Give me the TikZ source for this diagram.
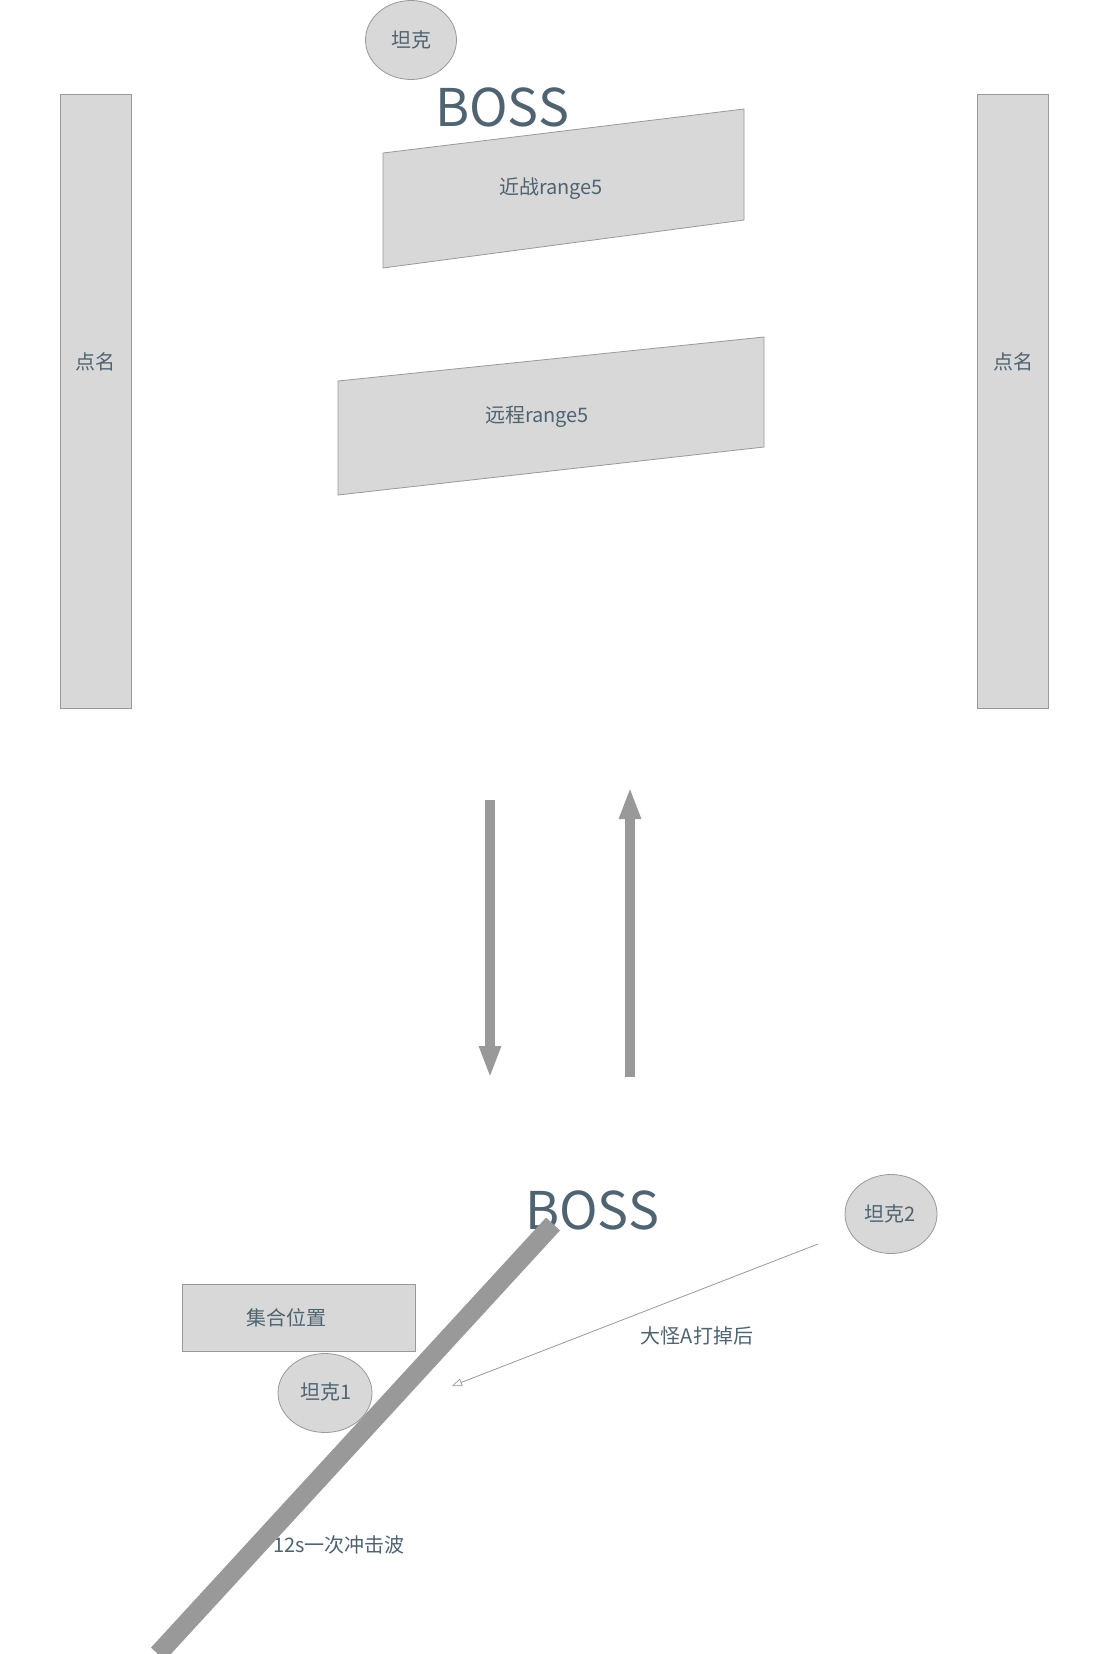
\documentclass[tikz,border=0pt]{standalone}
\usepackage{fontspec}
\setmainfont{Noto Sans CJK SC}
\usetikzlibrary{arrows.meta,shapes.geometric}
\definecolor{fillg}{HTML}{D8D8D8}
\definecolor{lineg}{HTML}{999999}
\definecolor{txt}{HTML}{4F6371}
\tikzset{
  shapebox/.style={fill=fillg,draw=lineg,line width=0.8pt},
  tankell/.style={ellipse,fill=fillg,draw=lineg,line width=0.8pt,inner sep=0pt},
  lbl/.style={text=txt,font=\fontsize{20}{23}\selectfont,inner sep=0pt},
  bosslbl/.style={text=txt,font=\fontsize{52}{56}\selectfont,inner sep=0pt},
  bigarrow/.style={draw=lineg,line width=10pt,-{Triangle[width=20pt,length=32pt]}},
  thinarrow/.style={draw=lineg,line width=0.8pt,-{Triangle[open,width=8pt,length=10pt,line width=0.7pt]}},
  bar/.style={draw=lineg,line width=19pt,line cap=butt}
}
\begin{document}
\begin{tikzpicture}[x=1pt,y=-1pt]
\useasboundingbox[fill=white] (0,0) rectangle (1109,1654);
% top tank
\node[tankell,minimum width=91pt,minimum height=79pt] (tanktop) at (411,40) {};
\node[lbl] (tanktoplbl) at (411,40) {坦克};
% top boss
\node[bosslbl] (bosstop) at (502,107) {BOSS};
% side rects
\draw[shapebox] (60,94) rectangle (131,708);
\node[lbl] (leftcall) at (95,362) {点名};
\draw[shapebox] (977,94) rectangle (1048,708);
\node[lbl] (rightcall) at (1013,362) {点名};
% parallelograms
\draw[shapebox] (383,153) -- (744,109) -- (744,220) -- (383,268) -- cycle;
\node[lbl] (melee) at (551,189) {近战range5};
\draw[shapebox] (338,381) -- (764,337) -- (764,447) -- (338,495) -- cycle;
\node[lbl] (ranged) at (537,417) {远程range5};
% big arrows
\coordinate (dtop) at (490,800);
\coordinate (dbot) at (490,1078);
\coordinate (ubot) at (630,1077);
\coordinate (utop) at (630,787);
\draw[bigarrow] (dtop) -- (dbot);
\draw[bigarrow] (ubot) -- (utop);
% bottom scene
\node[bosslbl] (bossbot) at (592,1210) {BOSS};
\node[tankell,minimum width=92pt,minimum height=79pt] (tank2) at (891,1214) {};
\node[lbl] (tank2lbl) at (890,1214) {坦克2};
\draw[shapebox] (182,1284) rectangle (415,1351);
\node[lbl] (gather) at (286,1318) {集合位置};
\node[tankell,minimum width=94pt,minimum height=79pt] (tank1) at (325,1393) {};
\node[lbl] (tank1lbl) at (326,1392) {坦克1};
\coordinate (tstart) at (818,1244);
\coordinate (tend) at (452,1386);
\draw[thinarrow] (tstart) -- (tend);
\node[lbl] (after) at (697,1336) {大怪A打掉后};
\node[lbl] (wave) at (339,1545) {12s一次冲击波};
\coordinate (bartop) at (553,1224);
\coordinate (barbot) at (158,1654);
\begin{scope}
\clip (0,0) rectangle (1109,1654);
\draw[bar] (bartop) -- (barbot);
\end{scope}
\end{tikzpicture}
\end{document}
